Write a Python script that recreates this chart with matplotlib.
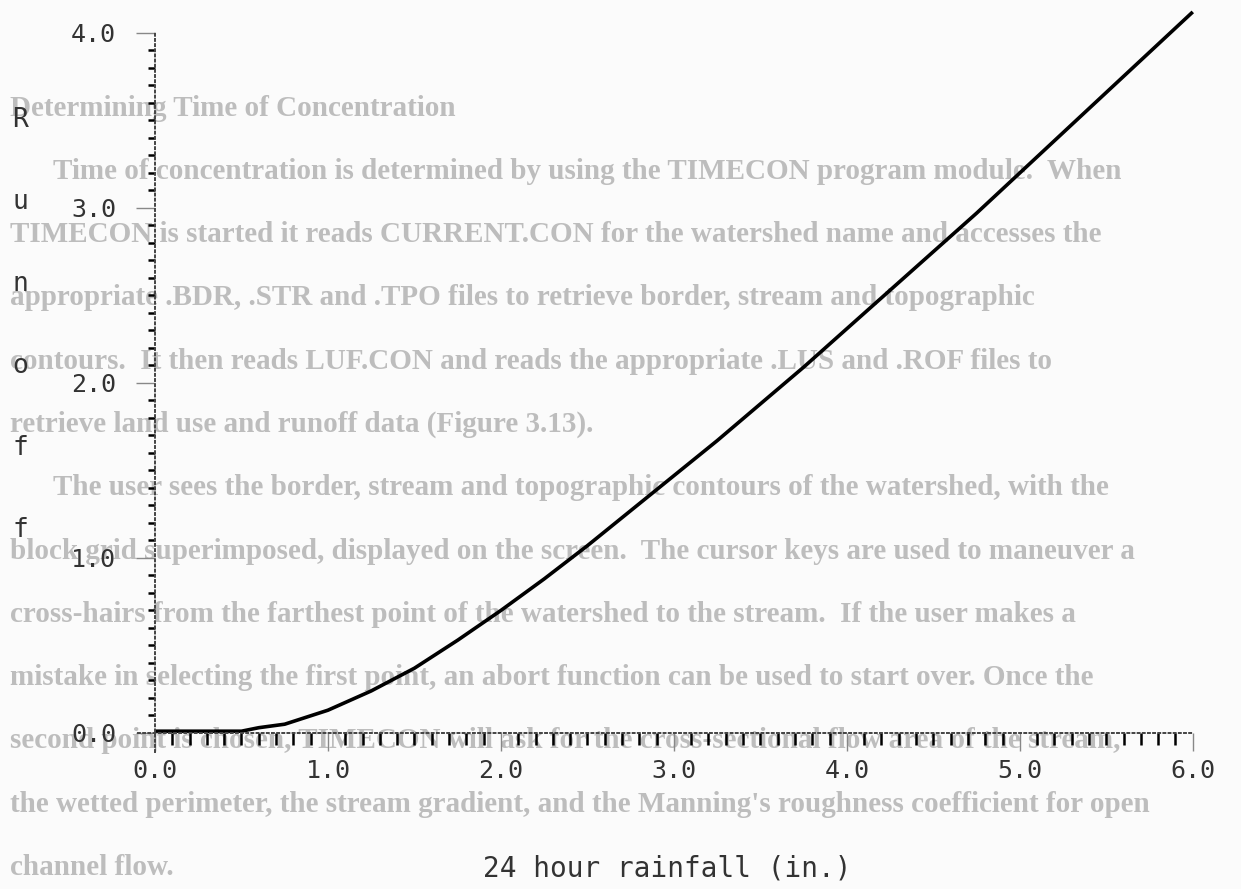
import matplotlib
matplotlib.use("Agg")
import numpy as np
import matplotlib.pyplot as plt
from matplotlib.ticker import FixedLocator

# Curve (24 hour rainfall vs runoff, inches):
rainfall = [0.0, 0.25, 0.5, 0.55, 0.6, 0.75, 1.0, 1.25, 1.5, 1.75, 2.0, 2.25, 2.5,
            2.75, 3.0, 3.25, 3.5, 3.75, 4.0, 4.25, 4.5, 4.75, 5.0, 5.25, 5.5, 5.75, 6.0]
runoff = [0.01, 0.01, 0.01, 0.02, 0.03, 0.05, 0.13, 0.24, 0.37, 0.53, 0.70, 0.88, 1.07,
          1.27, 1.47, 1.67, 1.88, 2.09, 2.31, 2.53, 2.75, 2.97, 3.20, 3.43, 3.66, 3.89, 4.12]

# Axis ticks and labels:
x_ticks = [0, 1, 2, 3, 4, 5, 6]
x_tick_labels = ["0.0", "1.0", "2.0", "3.0", "4.0", "5.0", "6.0"]
y_ticks = [0, 1, 2, 3, 4]
y_tick_labels = ["0.0", "1.0", "2.0", "3.0", "4.0"]
x_label = "24 hour rainfall (in.)"
y_label = "Runoff"

# Faint page text from the scan behind the chart:
page_heading = "Determining Time of Concentration"
page_lines = [
    "Time of concentration is determined by using the TIMECON program module.  When",
    "TIMECON is started it reads CURRENT.CON for the watershed name and accesses the",
    "appropriate .BDR, .STR and .TPO files to retrieve border, stream and topographic",
    "contours.  It then reads LUF.CON and reads the appropriate .LUS and .ROF files to",
    "retrieve land use and runoff data (Figure 3.13).",
    "The user sees the border, stream and topographic contours of the watershed, with the",
    "block grid superimposed, displayed on the screen.  The cursor keys are used to maneuver a",
    "cross-hairs from the farthest point of the watershed to the stream.  If the user makes a",
    "mistake in selecting the first point, an abort function can be used to start over. Once the",
    "second point is chosen, TIMECON will ask for the cross-sectional flow area of the stream,",
    "the wetted perimeter, the stream gradient, and the Manning's roughness coefficient for open",
    "channel flow.",
]
indented = [0, 5]

W, H = 1241, 889
fig = plt.figure(figsize=(W / 100, H / 100), dpi=100)
fig.patch.set_facecolor("#fbfbfb")

# Page text (zorder below the axes so the plot ink sits on top of it):
text_kw = dict(family="Liberation Serif", fontsize=21, fontweight="bold",
               color="#bdbdbd", va="center", ha="left", zorder=-5)
fig.text(10 / W, 1 - 108 / H, page_heading, **text_kw)
for i, line in enumerate(page_lines):
    y = 108 + 63.3 * (i + 1)
    x = 53 if i in indented else 10
    fig.text(x / W, 1 - y / H, line, **text_kw)

# Plot area:
ax = fig.add_axes([0.097, 0.146, 0.899, 0.8465])
ax.set_facecolor("none")
ax.plot(rainfall, runoff, color="black", linewidth=2.6, solid_capstyle="butt")

ax.set_xlim(-0.2, 6.25)
ax.set_ylim(-0.15, 4.15)

for side in ["top", "right"]:
    ax.spines[side].set_visible(False)
ax.spines["left"].set_position(("data", 0))
ax.spines["bottom"].set_position(("data", 0))
ax.spines["left"].set_bounds(-0.11, 4.0)
ax.spines["bottom"].set_bounds(-0.1, 6.0)
for side in ["left", "bottom"]:
    ax.spines[side].set_linestyle(":")
    ax.spines[side].set_linewidth(1.4)
    ax.spines[side].set_color("#444444")

ax.set_xticks(x_ticks)
ax.set_xticklabels(x_tick_labels)
ax.set_yticks(y_ticks)
ax.set_yticklabels(y_tick_labels)
# minor ticks every 0.1, only inside the printed axis range
ax.xaxis.set_minor_locator(FixedLocator(np.arange(0, 6.001, 0.1)))
ax.yaxis.set_minor_locator(FixedLocator(np.arange(0, 4.001, 0.1)))

ax.tick_params(axis="x", which="major", direction="out", length=13, width=1.0, color="#888888", pad=6)
ax.tick_params(axis="x", which="minor", direction="out", length=8.5, width=1.8, color="black")
ax.tick_params(axis="y", which="major", direction="out", length=14, width=1.0, color="#888888", pad=14)
ax.tick_params(axis="y", which="minor", direction="out", length=5, width=1.8, color="black")
for lab in ax.get_xticklabels() + ax.get_yticklabels():
    lab.set_family("DejaVu Sans Mono")
    lab.set_fontsize(18)
    lab.set_color("#333333")

ax.set_xlabel(x_label, family="DejaVu Sans Mono", fontsize=20, color="#333333")
ax.xaxis.set_label_coords(0.49, -0.127)

# Vertical stacked axis title at the left edge:
for i, ch in enumerate(y_label):
    fig.text(20 / W, 1 - (120 + 82 * i) / H, ch, family="DejaVu Sans Mono",
             fontsize=19, color="#333333", ha="center", va="center")

fig.savefig("out.png", dpi=100, facecolor=fig.get_facecolor())
